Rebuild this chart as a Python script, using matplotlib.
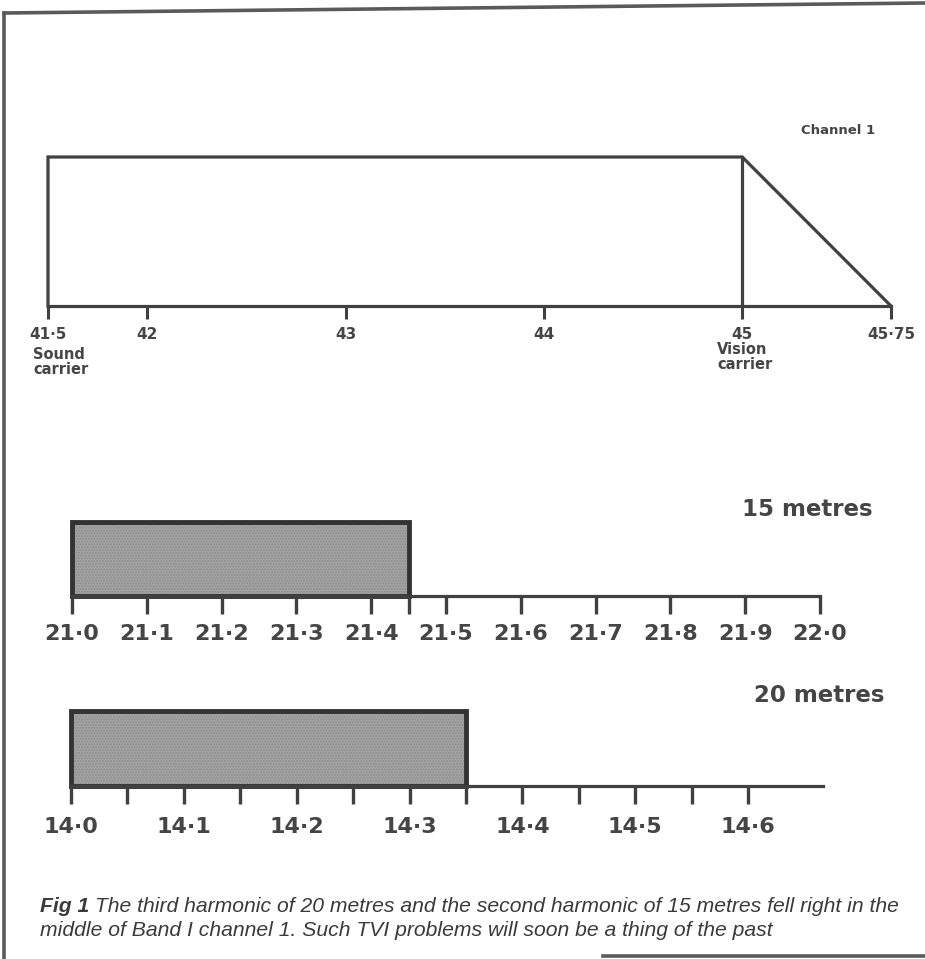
import matplotlib
matplotlib.use("Agg")
import matplotlib.pyplot as plt
from matplotlib.lines import Line2D
import numpy as np

# ---------------- data ----------------
channel_freq = [41.5, 41.5, 45.0, 45.75]
channel_level = [0, 1, 1, 0]
vision_carrier = 45.0
sound_carrier = 41.5
top_ticks = [41.5, 42, 43, 44, 45, 45.75]
top_tick_labels = ["41·5", "42", "43", "44", "45", "45·75"]

band15 = (21.0, 21.45)
ticks15 = [21.0, 21.1, 21.2, 21.3, 21.4, 21.5, 21.6, 21.7, 21.8, 21.9, 22.0]
labels15 = ["21·0", "21·1", "21·2", "21·3", "21·4", "21·5", "21·6", "21·7", "21·8", "21·9", "22·0"]
extra15 = [21.45]

band20 = (14.0, 14.35)
ticks20 = [14.0, 14.1, 14.2, 14.3, 14.4, 14.5, 14.6]
labels20 = ["14·0", "14·1", "14·2", "14·3", "14·4", "14·5", "14·6"]
minor20 = [14.05, 14.15, 14.25, 14.35, 14.45, 14.55]

caption_bold = "Fig 1"
caption_rest = (" The third harmonic of 20 metres and the second harmonic of 15 metres fell right in the")
caption_line2 = "middle of Band I channel 1. Such TVI problems will soon be a thing of the past"

# ---------------- style ----------------
W, H = 925, 959
INK = "#404040"
LBL = "#454545"
plt.rcParams["font.family"] = ["DejaVu Sans"]

fig = plt.figure(figsize=(W / 100, H / 100), dpi=100)
fig.patch.set_facecolor("white")


def add_ax(left, top, right, bottom):
    return fig.add_axes([left / W, 1 - bottom / H, (right - left) / W, (bottom - top) / H])


def px(x, y):
    return (x / W, 1 - y / H)


def shaded_band(ax, band):
    # stippled fill
    ax.bar(band[0], 1, width=band[1] - band[0], align="edge", facecolor="#a3a3a3",
           edgecolor="#8e8e8e", linewidth=0, hatch="......", clip_on=False)
    # heavy outline
    ax.bar(band[0], 1, width=band[1] - band[0], align="edge", facecolor="none",
           edgecolor="#333333", linewidth=3.5, clip_on=False)


# page border (scanned frame)
for (x0, y0), (x1, y1) in [((4, 13), (925, 3)), ((4, 13), (4, 959)), ((603, 956), (925, 956))]:
    a, b = px(x0, y0), px(x1, y1)
    fig.add_artist(Line2D([a[0], b[0]], [a[1], b[1]], color="#5a5a5a", lw=2.6,
                          transform=fig.transFigure))

# ---------------- top panel: channel 1 ----------------
ax1 = add_ax(48, 157, 891, 306)
ax1.set_xlim(channel_freq[0], channel_freq[-1])
ax1.set_ylim(0, 1)
ax1.plot(channel_freq, channel_level, color=INK, lw=2.3, clip_on=False, solid_joinstyle="miter")
ax1.plot([vision_carrier, vision_carrier], [0, 1], color=INK, lw=2.3, clip_on=False)
for s in ["top", "left", "right"]:
    ax1.spines[s].set_visible(False)
ax1.spines["bottom"].set_color(INK)
ax1.spines["bottom"].set_linewidth(2.3)
ax1.set_yticks([])
ax1.set_xticks(top_ticks)
ax1.set_xticklabels(top_tick_labels, fontsize=11, fontweight="bold", color=LBL)
ax1.tick_params(axis="x", direction="out", length=9, width=2.2, color=INK, pad=6)
ax1.patch.set_alpha(0)

fig.text(33 / W, 1 - 362 / H, "Sound\ncarrier", fontsize=10.5, fontweight="bold", color=LBL,
         ha="left", va="center", linespacing=1.0)
fig.text(717 / W, 1 - 357 / H, "Vision\ncarrier", fontsize=10.5, fontweight="bold", color=LBL,
         ha="left", va="center", linespacing=1.0)
fig.text(875 / W, 1 - 131 / H, "Channel 1", fontsize=9.5, fontweight="bold", color=LBL,
         ha="right", va="center")

# ---------------- middle panel: 15 metres ----------------
ax2 = add_ax(72, 522, 820, 596)
ax2.set_xlim(ticks15[0], ticks15[-1])
ax2.set_ylim(0, 1)
shaded_band(ax2, band15)
for s in ["top", "left", "right"]:
    ax2.spines[s].set_visible(False)
ax2.spines["bottom"].set_color(INK)
ax2.spines["bottom"].set_linewidth(2.3)
ax2.set_yticks([])
ax2.set_xticks(ticks15)
ax2.set_xticklabels(labels15, fontsize=16, fontweight="bold", color=LBL)
ax2.set_xticks(extra15, minor=True)
ax2.tick_params(axis="x", which="both", direction="out", length=13, width=2.4, color=INK, pad=7)
ax2.patch.set_alpha(0)
fig.text(873 / W, 1 - 509 / H, "15 metres", fontsize=16.5, fontweight="bold", color=LBL,
         ha="right", va="center")

# ---------------- lower panel: 20 metres ----------------
ax3 = add_ax(71, 711, 823, 786)
ax3.set_xlim(ticks20[0], ticks20[0] + (823 - 71) / ((748 - 71) / (ticks20[-1] - ticks20[0])))
ax3.set_ylim(0, 1)
shaded_band(ax3, band20)
for s in ["top", "left", "right"]:
    ax3.spines[s].set_visible(False)
ax3.spines["bottom"].set_color(INK)
ax3.spines["bottom"].set_linewidth(2.3)
ax3.set_yticks([])
ax3.set_xticks(ticks20)
ax3.set_xticklabels(labels20, fontsize=16, fontweight="bold", color=LBL)
ax3.set_xticks(minor20, minor=True)
ax3.tick_params(axis="x", which="both", direction="out", length=13, width=2.4, color=INK, pad=9)
ax3.patch.set_alpha(0)
fig.text(885 / W, 1 - 696 / H, "20 metres", fontsize=16.5, fontweight="bold", color=LBL,
         ha="right", va="center")

# ---------------- caption ----------------
cap_font = ["Liberation Sans"]
CAP = 15.2
t = fig.text(40 / W, 1 - 906 / H, caption_bold, fontsize=CAP, fontweight="bold", style="italic",
             color="#3a3a3a", ha="left", va="center", family=cap_font)
fig.canvas.draw()
bb = t.get_window_extent()
fig.text(bb.x1 / W, 1 - 906 / H, caption_rest, fontsize=CAP, style="italic",
         color="#3a3a3a", ha="left", va="center", family=cap_font)
fig.text(40 / W, 1 - 931 / H, caption_line2, fontsize=CAP, style="italic",
         color="#3a3a3a", ha="left", va="center", family=cap_font)

fig.savefig("out.png", dpi=100, facecolor="white")
